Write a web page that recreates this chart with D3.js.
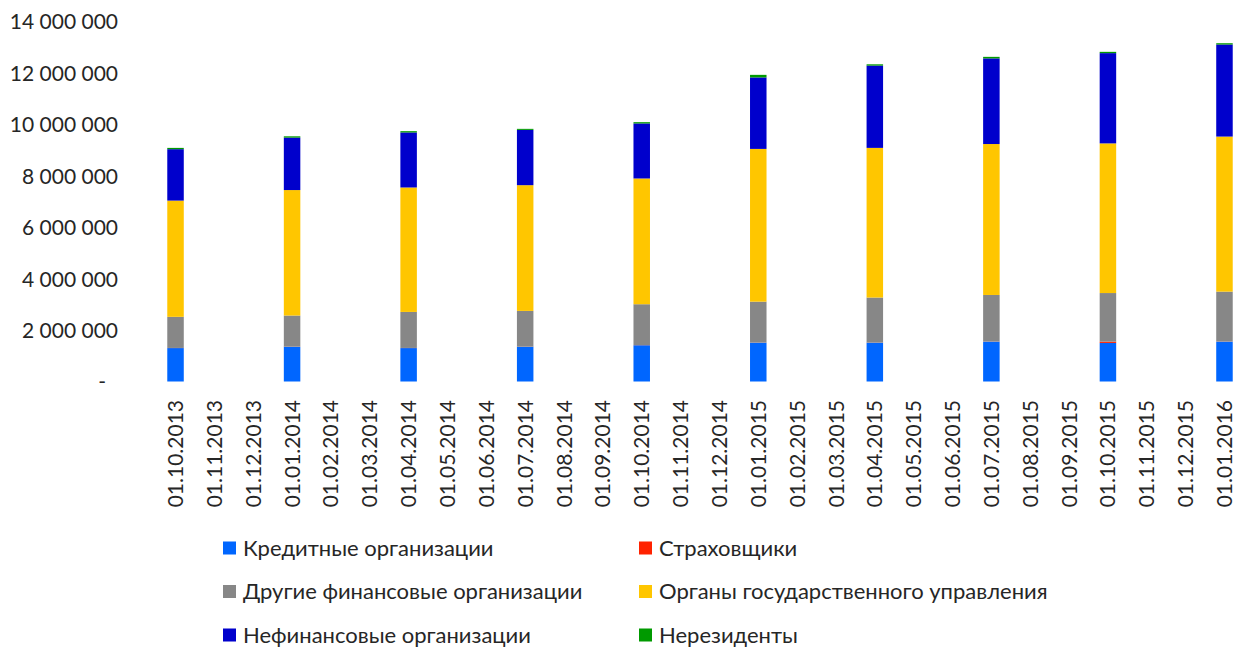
<!DOCTYPE html>
<html>
<head>
<meta charset="utf-8">
<script src="https://cdn.jsdelivr.net/npm/d3@7"></script>
<style>
  html, body { margin: 0; padding: 0; background: #fff; }
  svg { display: block; }
  text { font-family: Lato, "Open Sans", sans-serif; fill: #262626; }
</style>
</head>
<body>
<svg id="chart" width="1238" height="647"></svg>
<script>
// ---- data ----
const tickLabels = [
  "01.10.2013","01.11.2013","01.12.2013","01.01.2014","01.02.2014","01.03.2014",
  "01.04.2014","01.05.2014","01.06.2014","01.07.2014","01.08.2014","01.09.2014",
  "01.10.2014","01.11.2014","01.12.2014","01.01.2015","01.02.2015","01.03.2015",
  "01.04.2015","01.05.2015","01.06.2015","01.07.2015","01.08.2015","01.09.2015",
  "01.10.2015","01.11.2015","01.12.2015","01.01.2016"
];
const barDates = [
  "01.10.2013","01.01.2014","01.04.2014","01.07.2014","01.10.2014",
  "01.01.2015","01.04.2015","01.07.2015","01.10.2015","01.01.2016"
];
const seriesNames = [
  "Кредитные организации",
  "Страховщики",
  "Другие финансовые организации",
  "Органы государственного управления",
  "Нефинансовые организации",
  "Нерезиденты"
];
const seriesColors = ["#0066FF", "#FF2200", "#878787", "#FFC600", "#0000CC", "#009A00"];
const creditOrgs   = [1300000, 1350000, 1300000, 1350000, 1410000, 1510000, 1510000, 1550000, 1500000, 1550000];
const insurers     = [5000, 5000, 5000, 5000, 5000, 5000, 5000, 5000, 50000, 5000];
const otherFin     = [1210000, 1210000, 1400000, 1390000, 1590000, 1590000, 1750000, 1810000, 1890000, 1940000];
const government   = [4520000, 4880000, 4840000, 4890000, 4890000, 5940000, 5820000, 5870000, 5820000, 6030000];
const nonFinancial = [2000000, 2040000, 2140000, 2150000, 2140000, 2780000, 3200000, 3330000, 3510000, 3580000];
const nonResidents = [50000, 50000, 50000, 40000, 50000, 100000, 50000, 60000, 50000, 50000];
const yTicks = [0, 2000000, 4000000, 6000000, 8000000, 10000000, 12000000, 14000000];

// ---- build table ----
const seriesValues = [creditOrgs, insurers, otherFin, government, nonFinancial, nonResidents];
const keys = seriesNames;
const table = barDates.map((d, i) => {
  const row = { date: d };
  keys.forEach((k, j) => { row[k] = seriesValues[j][i]; });
  return row;
});
const stacked = d3.stack().keys(keys)(table);

const svg = d3.select("#chart");

const x = d3.scaleBand().domain(tickLabels).range([156.1, 1243.9]).padding(0);
const y = d3.scaleLinear().domain([0, 14000000]).range([381.5, 21.5]);
const color = d3.scaleOrdinal().domain(keys).range(seriesColors);
const barW = 16.5;

// bars
svg.append("g").selectAll("g")
  .data(stacked)
  .join("g")
  .attr("fill", d => color(d.key))
  .selectAll("rect")
  .data(d => d)
  .join("rect")
  .attr("x", d => x(d.data.date) + x.bandwidth() / 2 - barW / 2)
  .attr("width", barW)
  .attr("y", d => y(d[1]))
  .attr("height", d => Math.max(0, y(d[0]) - y(d[1])));

// y axis
const fmt = v => v === 0 ? "-" : d3.format(",")(v).replace(/,/g, " ");
const yAxis = d3.axisLeft(y).tickValues(yTicks).tickFormat(fmt).tickSize(0).tickPadding(0);
const gy = svg.append("g").attr("transform", "translate(118,0)").call(yAxis);
gy.select(".domain").remove();
gy.selectAll("text")
  .style("font-size", "21px")
  .style("font-family", "Lato, 'Open Sans', sans-serif")
  .style("white-space", "pre")
  .attr("fill", "#262626")
  .attr("dy", "0.35em")
  .attr("x", d => d === 0 ? -12 : 0);

// x axis
const xAxis = d3.axisBottom(x).tickSize(0).tickPadding(0);
const gx = svg.append("g").attr("transform", "translate(0,400)").call(xAxis);
gx.select(".domain").remove();
gx.selectAll("text")
  .style("font-size", "21px")
  .style("font-family", "Lato, 'Open Sans', sans-serif")
  .attr("fill", "#262626")
  .attr("text-anchor", "end")
  .attr("transform", "rotate(-90)")
  .attr("x", 0)
  .attr("y", 0)
  .attr("dy", "0.36em");

// legend
const legendPos = [
  { col: 0, row: 0 }, { col: 1, row: 0 },
  { col: 0, row: 1 }, { col: 1, row: 1 },
  { col: 0, row: 2 }, { col: 1, row: 2 }
];
const colX = [223, 639];
const rowY = [548, 591.5, 635];
const lg = svg.append("g").selectAll("g")
  .data(keys)
  .join("g")
  .attr("transform", (d, i) => `translate(${colX[legendPos[i].col]},${rowY[legendPos[i].row]})`);
lg.append("rect")
  .attr("x", 0).attr("y", -6.5).attr("width", 13).attr("height", 13)
  .attr("fill", d => color(d));
lg.append("text")
  .attr("x", 20).attr("y", 0).attr("dy", "0.35em")
  .style("font-size", "22px")
  .text(d => d);
</script>
</body>
</html>
